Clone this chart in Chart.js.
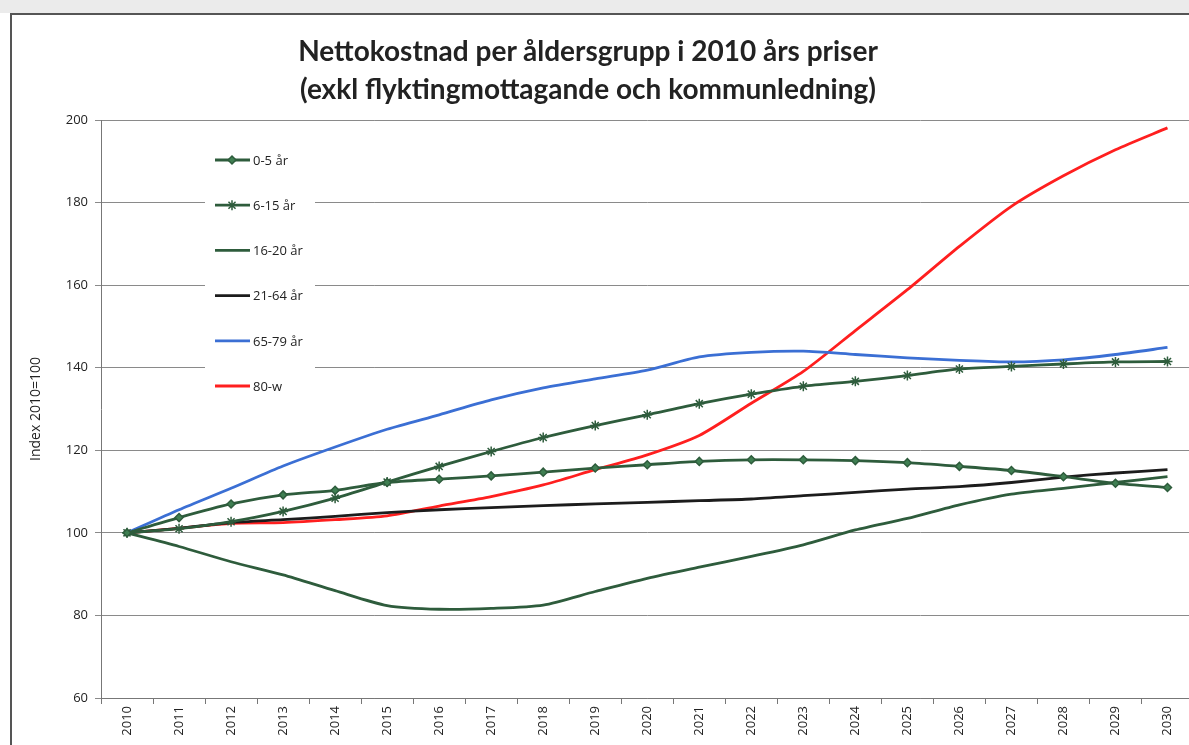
<!DOCTYPE html>
<html>
<head>
<meta charset="utf-8">
<script src="https://cdn.jsdelivr.net/npm/chart.js@4.4.1/dist/chart.umd.min.js"></script>
<style>
  html, body { margin: 0; padding: 0; background: #fff; overflow: hidden; }
  body { width: 1189px; height: 745px; position: relative; }
  #topstrip { position: absolute; left: 0; top: 0; width: 1189px; height: 13px; background: #ebebeb; }
  #frame { position: absolute; left: 10px; top: 13px; width: 1300px; height: 800px;
           border-left: 2px solid #555; border-top: 2px solid #555; }
  #title { position: absolute; left: 0; width: 1176px; top: 31px; text-align: center;
           font: bold 28px Lato, sans-serif; line-height: 38px; color: #222; }
  #wrap { position: absolute; left: 0; top: 0; width: 1200px; height: 745px; }
</style>
</head>
<body>
<div id="topstrip"></div>
<div id="frame"></div>
<div id="wrap"><canvas id="chart"></canvas></div>
<div id="title">Nettokostnad per åldersgrupp i 2010 års priser<br>(exkl flyktingmottagande och kommunledning)</div>

<script>
// År på x-axeln
const years = ["2010", "2011", "2012", "2013", "2014", "2015", "2016", "2017", "2018", "2019", "2020",
  "2021", "2022", "2023", "2024", "2025", "2026", "2027", "2028", "2029", "2030"];

// Index 2010=100 per åldersgrupp
const age0to5 = [100, 103.7, 107.0, 109.2, 110.3, 112.2, 113.0, 113.8, 114.7, 115.7, 116.5,
  117.3, 117.7, 117.7, 117.5, 117.0, 116.1, 115.1, 113.6, 112.0, 111.0];
const age6to15 = [100, 101.0, 102.7, 105.2, 108.4, 112.3, 116.1, 119.7, 123.1, 126.0, 128.6,
  131.3, 133.6, 135.5, 136.7, 138.1, 139.7, 140.3, 140.9, 141.4, 141.5];
const age16to20 = [100, 96.7, 93.0, 89.8, 86.0, 82.4, 81.5, 81.7, 82.5, 85.8, 89.0,
  91.7, 94.3, 97.1, 100.7, 103.5, 106.8, 109.4, 110.8, 112.2, 113.6];
const age21to64 = [100, 101.1, 102.5, 103.2, 104.0, 104.9, 105.6, 106.1, 106.6, 107.0, 107.4,
  107.8, 108.2, 109.0, 109.8, 110.6, 111.2, 112.2, 113.5, 114.5, 115.3];
const age65to79 = [100, 105.6, 110.8, 116.2, 120.8, 125.1, 128.6, 132.2, 135.1, 137.3, 139.4,
  142.6, 143.7, 144.0, 143.2, 142.4, 141.8, 141.4, 141.9, 143.2, 144.9];
const age80plus = [100, 101.1, 102.3, 102.5, 103.2, 104.1, 106.5, 108.8, 111.6, 115.3, 118.9,
  123.6, 131.4, 139.1, 149.0, 158.9, 169.4, 179.1, 186.5, 192.8, 198.1];

const yTicks = [60, 80, 100, 120, 140, 160, 180, 200];

const darkGreen = "#2e5c3c";
const markGreen = "#3f7f52";

function series(label, data, color, pointStyle, radius) {
  return {
    label: label,
    data: data,
    borderColor: color,
    backgroundColor: pointStyle ? markGreen : color,
    pointBorderColor: pointStyle ? darkGreen : color,
    pointBackgroundColor: markGreen,
    pointBorderWidth: 1.5,
    pointStyle: pointStyle || "circle",
    pointRadius: pointStyle ? radius : 0,
    borderWidth: 2.8,
    tension: 0.25,
    fill: false,
  };
}

// Legend inuti diagramytan, med vit bakgrund som döljer rutnätet
const insideLegend = {
  id: "insideLegend",
  beforeDatasetsDraw(chart) {
    const ctx = chart.ctx;
    ctx.save();
    ctx.fillStyle = "#fff";
    ctx.fillRect(205, 140, 110, 262);
    chart.data.datasets.forEach((ds, i) => {
      const y = 160 + i * 45.2;
      ctx.strokeStyle = ds.borderColor;
      ctx.lineWidth = 2.8;
      ctx.beginPath();
      ctx.moveTo(215, y);
      ctx.lineTo(250, y);
      ctx.stroke();
      if (ds.pointRadius > 0) {
        ctx.fillStyle = ds.pointBackgroundColor;
        ctx.strokeStyle = ds.pointBorderColor;
        ctx.lineWidth = ds.pointBorderWidth;
        Chart.helpers.drawPoint(ctx, { pointStyle: ds.pointStyle, radius: ds.pointRadius, borderWidth: 1.5, rotation: 0 }, 232, y);
      }
      ctx.fillStyle = "#222";
      ctx.font = "13px 'Open Sans'";
      ctx.textBaseline = "middle";
      ctx.fillText(ds.label, 253, y + 1);
    });
    ctx.restore();
  },
};

const ctx = document.getElementById("chart").getContext("2d");
new Chart(ctx, {
  type: "line",
  data: {
    labels: years,
    datasets: [
      series("0-5 år", age0to5, darkGreen, "rectRot", 4),
      series("6-15 år", age6to15, darkGreen, "star", 5),
      series("16-20 år", age16to20, darkGreen),
      series("21-64 år", age21to64, "#1c1c1c"),
      series("65-79 år", age65to79, "#3b6fd4"),
      series("80-w", age80plus, "#ff1f1f"),
    ],
  },
  plugins: [insideLegend],
  options: {
    responsive: true,
    maintainAspectRatio: false,
    animation: false,
    layout: { padding: { left: 25, top: 120, right: 6, bottom: 0 } },
    plugins: {
      legend: { display: false },
      tooltip: { enabled: false },
    },
    scales: {
      x: {
        offset: true,
        grid: { display: true, offset: true, drawOnChartArea: false, tickLength: 6, color: "#777" },
        border: { display: true, color: "#777" },
        ticks: { minRotation: 90, maxRotation: 90, color: "#222", font: { family: "Open Sans", size: 13 }, padding: 2 },
        afterFit: (s) => { s.height = 47; },
      },
      y: {
        min: 60,
        max: 200,
        afterBuildTicks: (s) => { s.ticks = yTicks.map((v) => ({ value: v })); },
        grid: { color: "#8a8a8a", lineWidth: 1, tickLength: 6 },
        border: { display: true, color: "#777" },
        ticks: { color: "#222", font: { family: "Open Sans", size: 13 }, padding: 7 },
        title: { display: true, text: "Index 2010=100", color: "#222", font: { family: "Open Sans", size: 14 }, padding: 3 },
        afterFit: (s) => { s.width = 76; },
      },
    },
  },
});
</script>
</body>
</html>
